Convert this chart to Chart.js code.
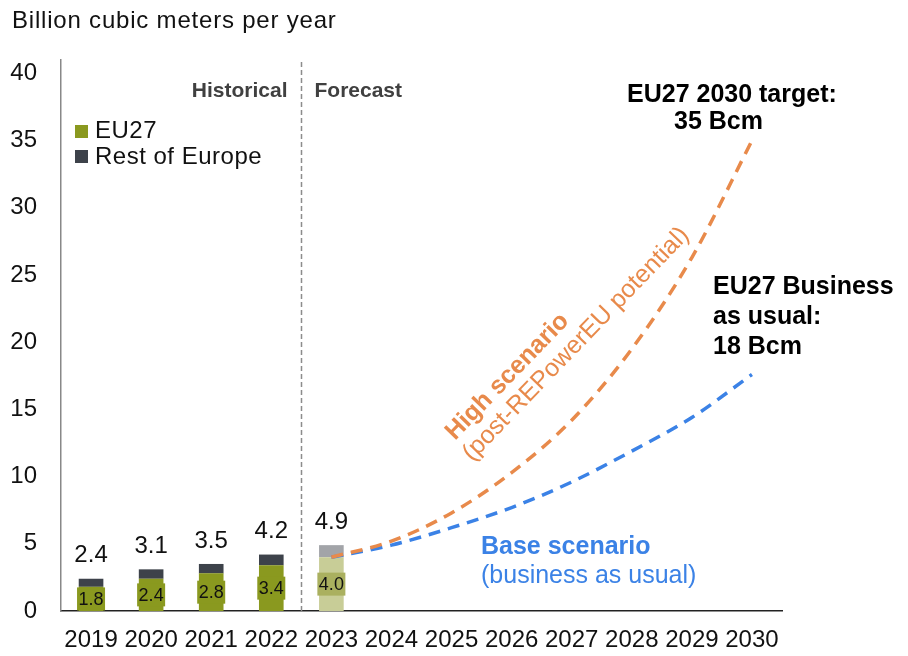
<!DOCTYPE html>
<html><head><meta charset="utf-8">
<script src="https://cdn.jsdelivr.net/npm/chart.js@4.4.0/dist/chart.umd.min.js"></script>
<style>html,body{margin:0;padding:0;background:#fff;}</style>
</head><body>
<canvas id="c" width="908" height="656"></canvas>
<script>
const years = ['2019','2020','2021','2022','2023','2024','2025','2026','2027','2028','2029','2030'];
const eu27 = [1.8, 2.4, 2.8, 3.4, 4.0, null, null, null, null, null, null, null];
const restOfEurope = [0.6, 0.7, 0.7, 0.8, 0.9, null, null, null, null, null, null, null];
const totals = [2.4, 3.1, 3.5, 4.2, 4.9];
const highScenario = [null, null, null, null, 4.0, 5.2, 7.3, 10.3, 14.2, 19.5, 26.3, 35.0];
const baseScenario = [null, null, null, null, 4.0, 4.9, 6.2, 7.7, 9.6, 11.9, 14.4, 17.6];
const yTicks = [0, 5, 10, 15, 20, 25, 30, 35, 40];

const FONT = "'Liberation Sans', Arial, sans-serif";
const OLIVE = '#8a991f', OLIVE_FC = '#c8cd97', OLIVE_BOX = '#aab05f';
const DARK = '#3d424a', DARK_FC = '#a2a4a8';
const ORANGE = '#e88a4b', BLUE = '#3b82e6';

function txt(ctx, s, x, y, ls) {
  ctx.letterSpacing = (ls || 0) + 'px';
  ctx.fillText(s, x, y);
  ctx.letterSpacing = '0px';
}

const overlay = {
  id: 'overlay',
  afterDatasetsDraw(chart) {
    const ctx = chart.ctx, y = chart.scales.y;
    ctx.save();
    const euMeta = chart.getDatasetMeta(2);
    euMeta.data.forEach((bar, i) => {
      if (eu27[i] == null) return;
      const cx = bar.x;
      const midY = (y.getPixelForValue(0) + y.getPixelForValue(eu27[i])) / 2;
      ctx.fillStyle = i === 4 ? OLIVE_BOX : OLIVE;
      ctx.fillRect(cx - 14, midY - 11.5, 28, 23);
      ctx.fillStyle = '#111';
      ctx.font = '18px ' + FONT;
      ctx.textAlign = 'center'; ctx.textBaseline = 'middle';
      ctx.fillText(eu27[i].toFixed(1), cx, midY + 1);
      ctx.font = '24px ' + FONT;
      ctx.fillText(totals[i].toFixed(1), cx, y.getPixelForValue(totals[i]) - 23);
    });
    ctx.restore();
  },
  afterDraw(chart) {
    const ctx = chart.ctx, x = chart.scales.x, ca = chart.chartArea;
    ctx.save();
    const sx = Math.round((x.getPixelForValue(3) + x.getPixelForValue(4)) / 2) + 0.5;
    ctx.strokeStyle = '#8c8c8c'; ctx.lineWidth = 1.5; ctx.setLineDash([5, 3]);
    ctx.beginPath(); ctx.moveTo(sx, ca.top + 2); ctx.lineTo(sx, ca.bottom); ctx.stroke();
    ctx.setLineDash([]);
    ctx.font = 'bold 21px ' + FONT; ctx.fillStyle = '#404040'; ctx.textBaseline = 'middle';
    ctx.textAlign = 'right'; ctx.fillText('Historical', sx - 14, 91);
    ctx.textAlign = 'left'; ctx.fillText('Forecast', sx + 13, 91);
    ctx.font = '24px ' + FONT; ctx.fillStyle = '#111';
    txt(ctx, 'Billion cubic meters per year', 12, 21, 0.8);
    ctx.fillStyle = OLIVE; ctx.fillRect(75, 125, 13, 13);
    ctx.fillStyle = DARK; ctx.fillRect(75, 150, 13, 13);
    ctx.fillStyle = '#111'; ctx.font = '24px ' + FONT;
    txt(ctx, 'EU27', 95, 131, 0.5);
    txt(ctx, 'Rest of Europe', 95, 157, 0.5);
    ctx.font = 'bold 25px ' + FONT; ctx.fillStyle = '#000';
    ctx.fillText('EU27 2030 target:', 627, 95);
    ctx.fillText('35 Bcm', 674, 122);
    ctx.fillText('EU27 Business', 713, 287);
    ctx.fillText('as usual:', 713, 317);
    ctx.fillText('18 Bcm', 713, 347);
    ctx.fillStyle = BLUE;
    ctx.fillText('Base scenario', 481, 547);
    ctx.font = '25px ' + FONT;
    ctx.fillText('(business as usual)', 481, 576);
    ctx.fillStyle = ORANGE; ctx.textBaseline = 'alphabetic';
    const ang = -46 * Math.PI / 180;
    ctx.save(); ctx.translate(455, 441); ctx.rotate(ang);
    ctx.font = 'bold 25px ' + FONT; ctx.fillText('High scenario', 0, 0); ctx.restore();
    ctx.save(); ctx.translate(472, 462); ctx.rotate(ang);
    ctx.font = '25px ' + FONT; ctx.fillText('(post-REPowerEU potential)', 0, 0); ctx.restore();
    ctx.restore();
  }
};

new Chart(document.getElementById('c'), {
  type: 'bar',
  data: {
    labels: years,
    datasets: [
      { type: 'line', label: 'High scenario', data: highScenario, stack: 'high', order: 0,
        borderColor: ORANGE, borderWidth: 3.5, borderDash: [12, 8], pointRadius: 0,
        cubicInterpolationMode: 'monotone', fill: false },
      { type: 'line', label: 'Base scenario', data: baseScenario, stack: 'base', order: 1,
        borderColor: BLUE, borderWidth: 3.5, borderDash: [12, 8], pointRadius: 0,
        cubicInterpolationMode: 'monotone', fill: false },
      { label: 'EU27', data: eu27, stack: 'bars', order: 2,
        backgroundColor: eu27.map((v, i) => i === 4 ? OLIVE_FC : OLIVE),
        barPercentage: 0.41, categoryPercentage: 1 },
      { label: 'Rest of Europe', data: restOfEurope, stack: 'bars', order: 3,
        backgroundColor: restOfEurope.map((v, i) => i === 4 ? DARK_FC : DARK),
        barPercentage: 0.41, categoryPercentage: 1 }
    ]
  },
  options: {
    responsive: false,
    animation: false,
    layout: { padding: { left: 0, right: 126, top: 60, bottom: 0 } },
    plugins: { legend: { display: false }, tooltip: { enabled: false } },
    scales: {
      x: {
        stacked: true,
        grid: { display: false, drawTicks: false },
        border: { display: true, color: '#222', width: 1.5 },
        ticks: { color: '#111', font: { family: FONT, size: 24 }, padding: 15, autoSkip: false, maxRotation: 0 },
        afterFit(s) { s.height = 45; }
      },
      y: {
        stacked: true,
        min: 0, max: 41,
        grid: { display: false, drawTicks: false },
        border: { display: true, color: '#888', width: 1.5 },
        ticks: { color: '#111', font: { family: FONT, size: 24 }, padding: 24 },
        afterBuildTicks(s) { s.ticks = yTicks.map(v => ({ value: v })); },
        afterFit(s) { s.width = 61; }
      }
    }
  },
  plugins: [overlay]
});
</script>
</body></html>
